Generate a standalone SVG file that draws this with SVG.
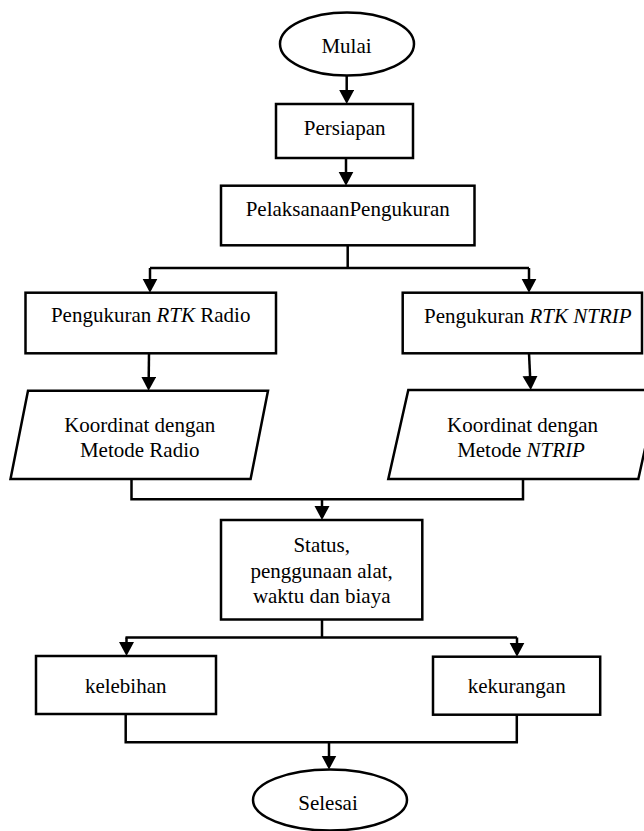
<svg xmlns="http://www.w3.org/2000/svg" width="644" height="831" viewBox="0 0 644 831">
<defs>
<style>
.shape{fill:#fff;stroke:#000;stroke-width:2.5}
.conn{fill:none;stroke:#000;stroke-width:2.5}
.lbl{font-family:"Liberation Serif","Times New Roman",serif;font-size:21px;fill:#000;text-anchor:middle}
.it{font-style:italic}
</style>
<marker id="arr" markerUnits="userSpaceOnUse" markerWidth="15" markerHeight="16" refX="11" refY="7.5" orient="auto" viewBox="0 0 15 16">
<path d="M0,0 L14,7.5 L0,15 Z" fill="#000"/>
</marker>
</defs>
<rect width="644" height="831" fill="#fff"/>
<g id="connectors">
<path class="conn" d="M346.7,75 V101" marker-end="url(#arr)"/>
<path class="conn" d="M346,158 V182.7" marker-end="url(#arr)"/>
<path class="conn" d="M347.7,245.3 V268 M150,268 H529"/>
<path class="conn" d="M150,268 V289.7" marker-end="url(#arr)"/>
<path class="conn" d="M529,268 V289.7" marker-end="url(#arr)"/>
<path class="conn" d="M149,353.3 L148.6,387.7" marker-end="url(#arr)"/>
<path class="conn" d="M529,353.3 L530.6,387" marker-end="url(#arr)"/>
<path class="conn" d="M131.5,479 V499.3 H523 V479"/>
<path class="conn" d="M322,499.3 V517" marker-end="url(#arr)"/>
<path class="conn" d="M322,619.5 V637.5 M125.5,637.5 H517"/>
<path class="conn" d="M126.5,637.5 V653" marker-end="url(#arr)"/>
<path class="conn" d="M517,637.5 V653.7" marker-end="url(#arr)"/>
<path class="conn" d="M125.7,714 V742.3 H516.8 V714.7"/>
<path class="conn" d="M329,742.3 V766.5" marker-end="url(#arr)"/>
</g>
<g id="mulai">
<ellipse class="shape" cx="347" cy="44" rx="67" ry="31.5"/>
<text class="lbl" x="346.5" y="53">Mulai</text>
</g>
<g id="persiapan">
<rect class="shape" x="276" y="104" width="137" height="54"/>
<text class="lbl" x="344.7" y="135">Persiapan</text>
</g>
<g id="pelaksanaan">
<rect class="shape" x="221" y="185.7" width="253.5" height="59.6"/>
<text class="lbl" x="347.7" y="215.7">PelaksanaanPengukuran</text>
</g>
<g id="rtk-radio">
<rect class="shape" x="25.5" y="292.7" width="250.5" height="60.6"/>
<text class="lbl" x="150.7" y="322.3">Pengukuran <tspan class="it">RTK</tspan> Radio</text>
</g>
<g id="rtk-ntrip">
<rect class="shape" x="402.7" y="292.7" width="239.3" height="60.6"/>
<text class="lbl" x="527.8" y="322.8">Pengukuran <tspan class="it">RTK NTRIP</tspan></text>
</g>
<g id="koordinat-radio">
<polygon class="shape" points="28,390.7 268,390.7 250.6,479 10.5,479"/>
<text class="lbl" x="139.7" y="431.7">Koordinat dengan</text>
<text class="lbl" x="139.7" y="457.3">Metode Radio</text>
</g>
<g id="koordinat-ntrip">
<polygon class="shape" points="408.3,390 658,390 638.3,479 388.3,479"/>
<text class="lbl" x="522.5" y="431.7">Koordinat dengan</text>
<text class="lbl" x="521" y="457"><tspan>Metode </tspan><tspan class="it">NTRIP</tspan></text>
</g>
<g id="status">
<rect class="shape" x="221" y="520" width="201.3" height="99.5"/>
<text class="lbl" x="321.7" y="551.7">Status,</text>
<text class="lbl" x="321.7" y="577.5">penggunaan alat,</text>
<text class="lbl" x="321.7" y="603.3">waktu dan biaya</text>
</g>
<g id="kelebihan">
<rect class="shape" x="36" y="656" width="180" height="58"/>
<text class="lbl" x="125.7" y="692.7">kelebihan</text>
</g>
<g id="kekurangan">
<rect class="shape" x="433" y="656.7" width="167.2" height="58"/>
<text class="lbl" x="516.7" y="692.7">kekurangan</text>
</g>
<g id="selesai">
<ellipse class="shape" cx="330" cy="800" rx="77" ry="30.5"/>
<text class="lbl" x="328" y="810">Selesai</text>
</g>
</svg>
